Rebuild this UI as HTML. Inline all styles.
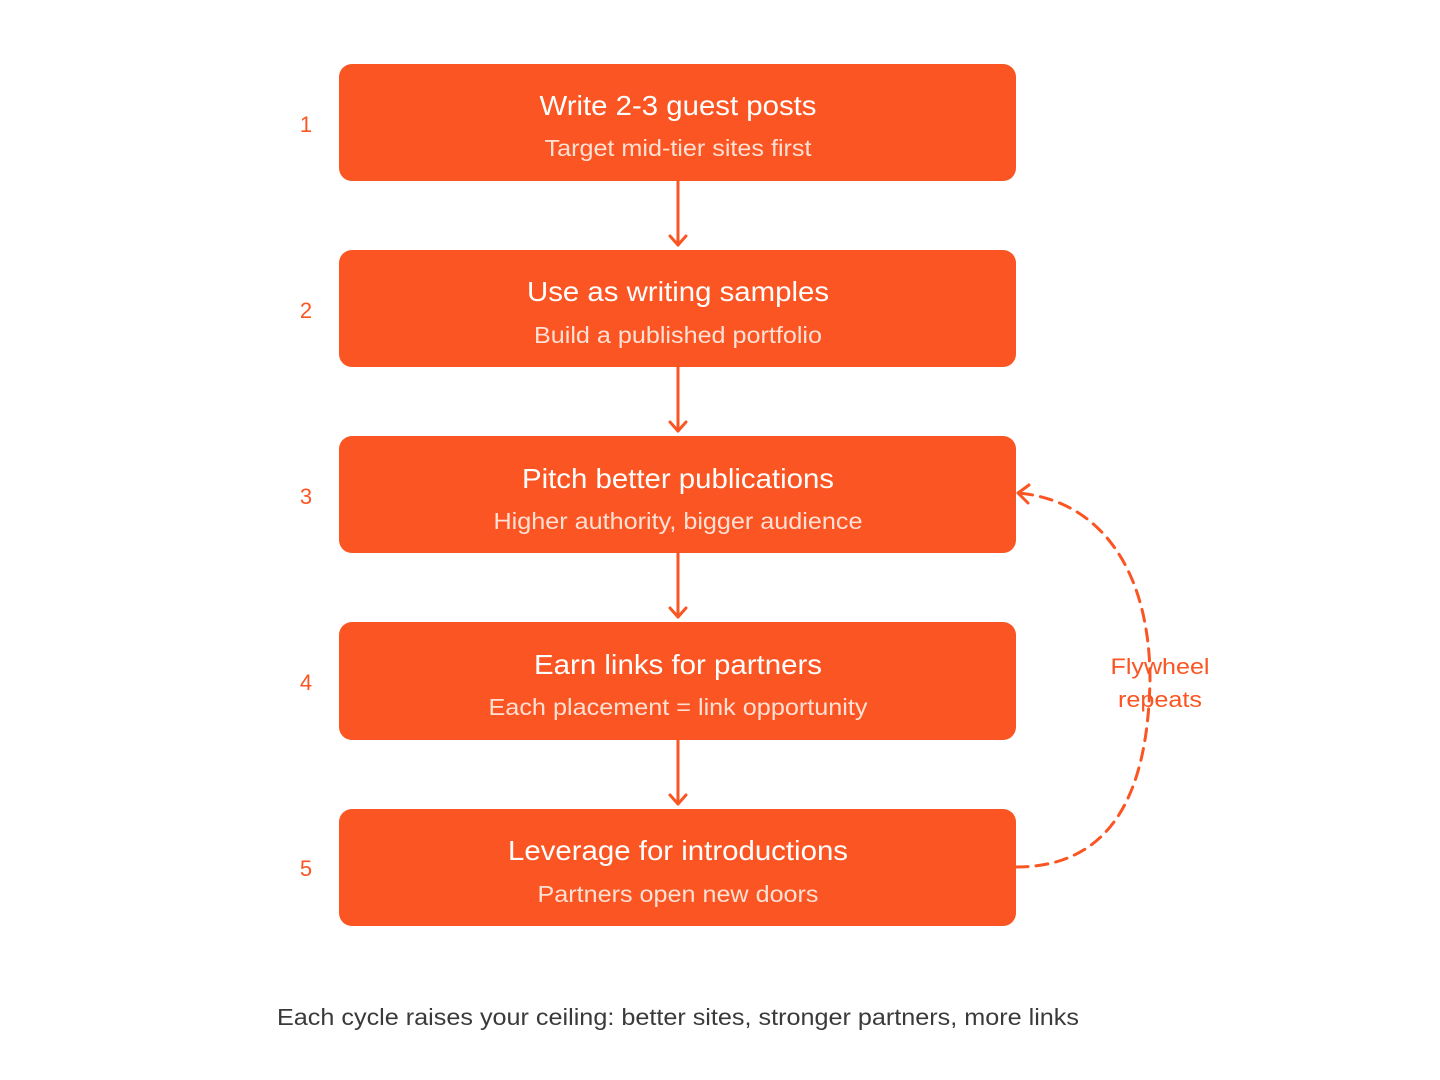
<!DOCTYPE html>
<html><head><meta charset="utf-8"><style>
html,body{margin:0;padding:0;background:#fff;}
svg{display:block;}
</style></head><body>
<svg width="1440" height="1080" viewBox="0 0 1440 1080" xmlns="http://www.w3.org/2000/svg" font-family="Liberation Sans, Helvetica, Arial, sans-serif">
<g fill="#FA5522">
<rect x="339" y="64" width="677" height="117" rx="13"/>
<rect x="339" y="250" width="677" height="117" rx="13"/>
<rect x="339" y="436" width="677" height="117" rx="13"/>
<rect x="339" y="622" width="677" height="118" rx="13"/>
<rect x="339" y="809" width="677" height="117" rx="13"/>
</g>
<g stroke="#FA5522" stroke-width="3" fill="none" stroke-linecap="round" stroke-linejoin="round">
<line x1="678" y1="181" x2="678" y2="245"/><polyline points="670,236 678,245 686,236"/>
<line x1="678" y1="367" x2="678" y2="431"/><polyline points="670,422 678,431 686,422"/>
<line x1="678" y1="553" x2="678" y2="617"/><polyline points="670,608 678,617 686,608"/>
<line x1="678" y1="740" x2="678" y2="804"/><polyline points="670,795 678,804 686,795"/>
<path d="M1016 867 C1120 867 1148 780 1150 680 C1150 570 1100 500 1018 493" stroke-dasharray="12 8"/>
<polyline points="1029,485 1018,493 1028,503"/>
</g>
<g fill="#fff" text-anchor="middle" font-size="28" lengthAdjust="spacingAndGlyphs">
<text x="678" y="115" textLength="277" lengthAdjust="spacingAndGlyphs">Write 2-3 guest posts</text>
<text x="678" y="301" textLength="302" lengthAdjust="spacingAndGlyphs">Use as writing samples</text>
<text x="678" y="488" textLength="312" lengthAdjust="spacingAndGlyphs">Pitch better publications</text>
<text x="678" y="674" textLength="288" lengthAdjust="spacingAndGlyphs">Earn links for partners</text>
<text x="678" y="860" textLength="340" lengthAdjust="spacingAndGlyphs">Leverage for introductions</text>
</g>
<g fill="#FFE0D4" text-anchor="middle" font-size="23">
<text x="678" y="156" textLength="267" lengthAdjust="spacingAndGlyphs">Target mid-tier sites first</text>
<text x="678" y="343" textLength="288" lengthAdjust="spacingAndGlyphs">Build a published portfolio</text>
<text x="678" y="529" textLength="369" lengthAdjust="spacingAndGlyphs">Higher authority, bigger audience</text>
<text x="678" y="715" textLength="379" lengthAdjust="spacingAndGlyphs">Each placement = link opportunity</text>
<text x="678" y="902" textLength="281" lengthAdjust="spacingAndGlyphs">Partners open new doors</text>
</g>
<g fill="#FA5522" text-anchor="middle" font-size="22">
<text x="306" y="132">1</text>
<text x="306" y="318">2</text>
<text x="306" y="504">3</text>
<text x="306" y="690">4</text>
<text x="306" y="876">5</text>
<text x="1160" y="674" textLength="99" lengthAdjust="spacingAndGlyphs">Flywheel</text>
<text x="1160" y="707" textLength="84" lengthAdjust="spacingAndGlyphs">repeats</text>
</g>
<text x="678" y="1025" text-anchor="middle" font-size="23" fill="#3a3a3a" textLength="802" lengthAdjust="spacingAndGlyphs">Each cycle raises your ceiling: better sites, stronger partners, more links</text>
</svg>
</body></html>
